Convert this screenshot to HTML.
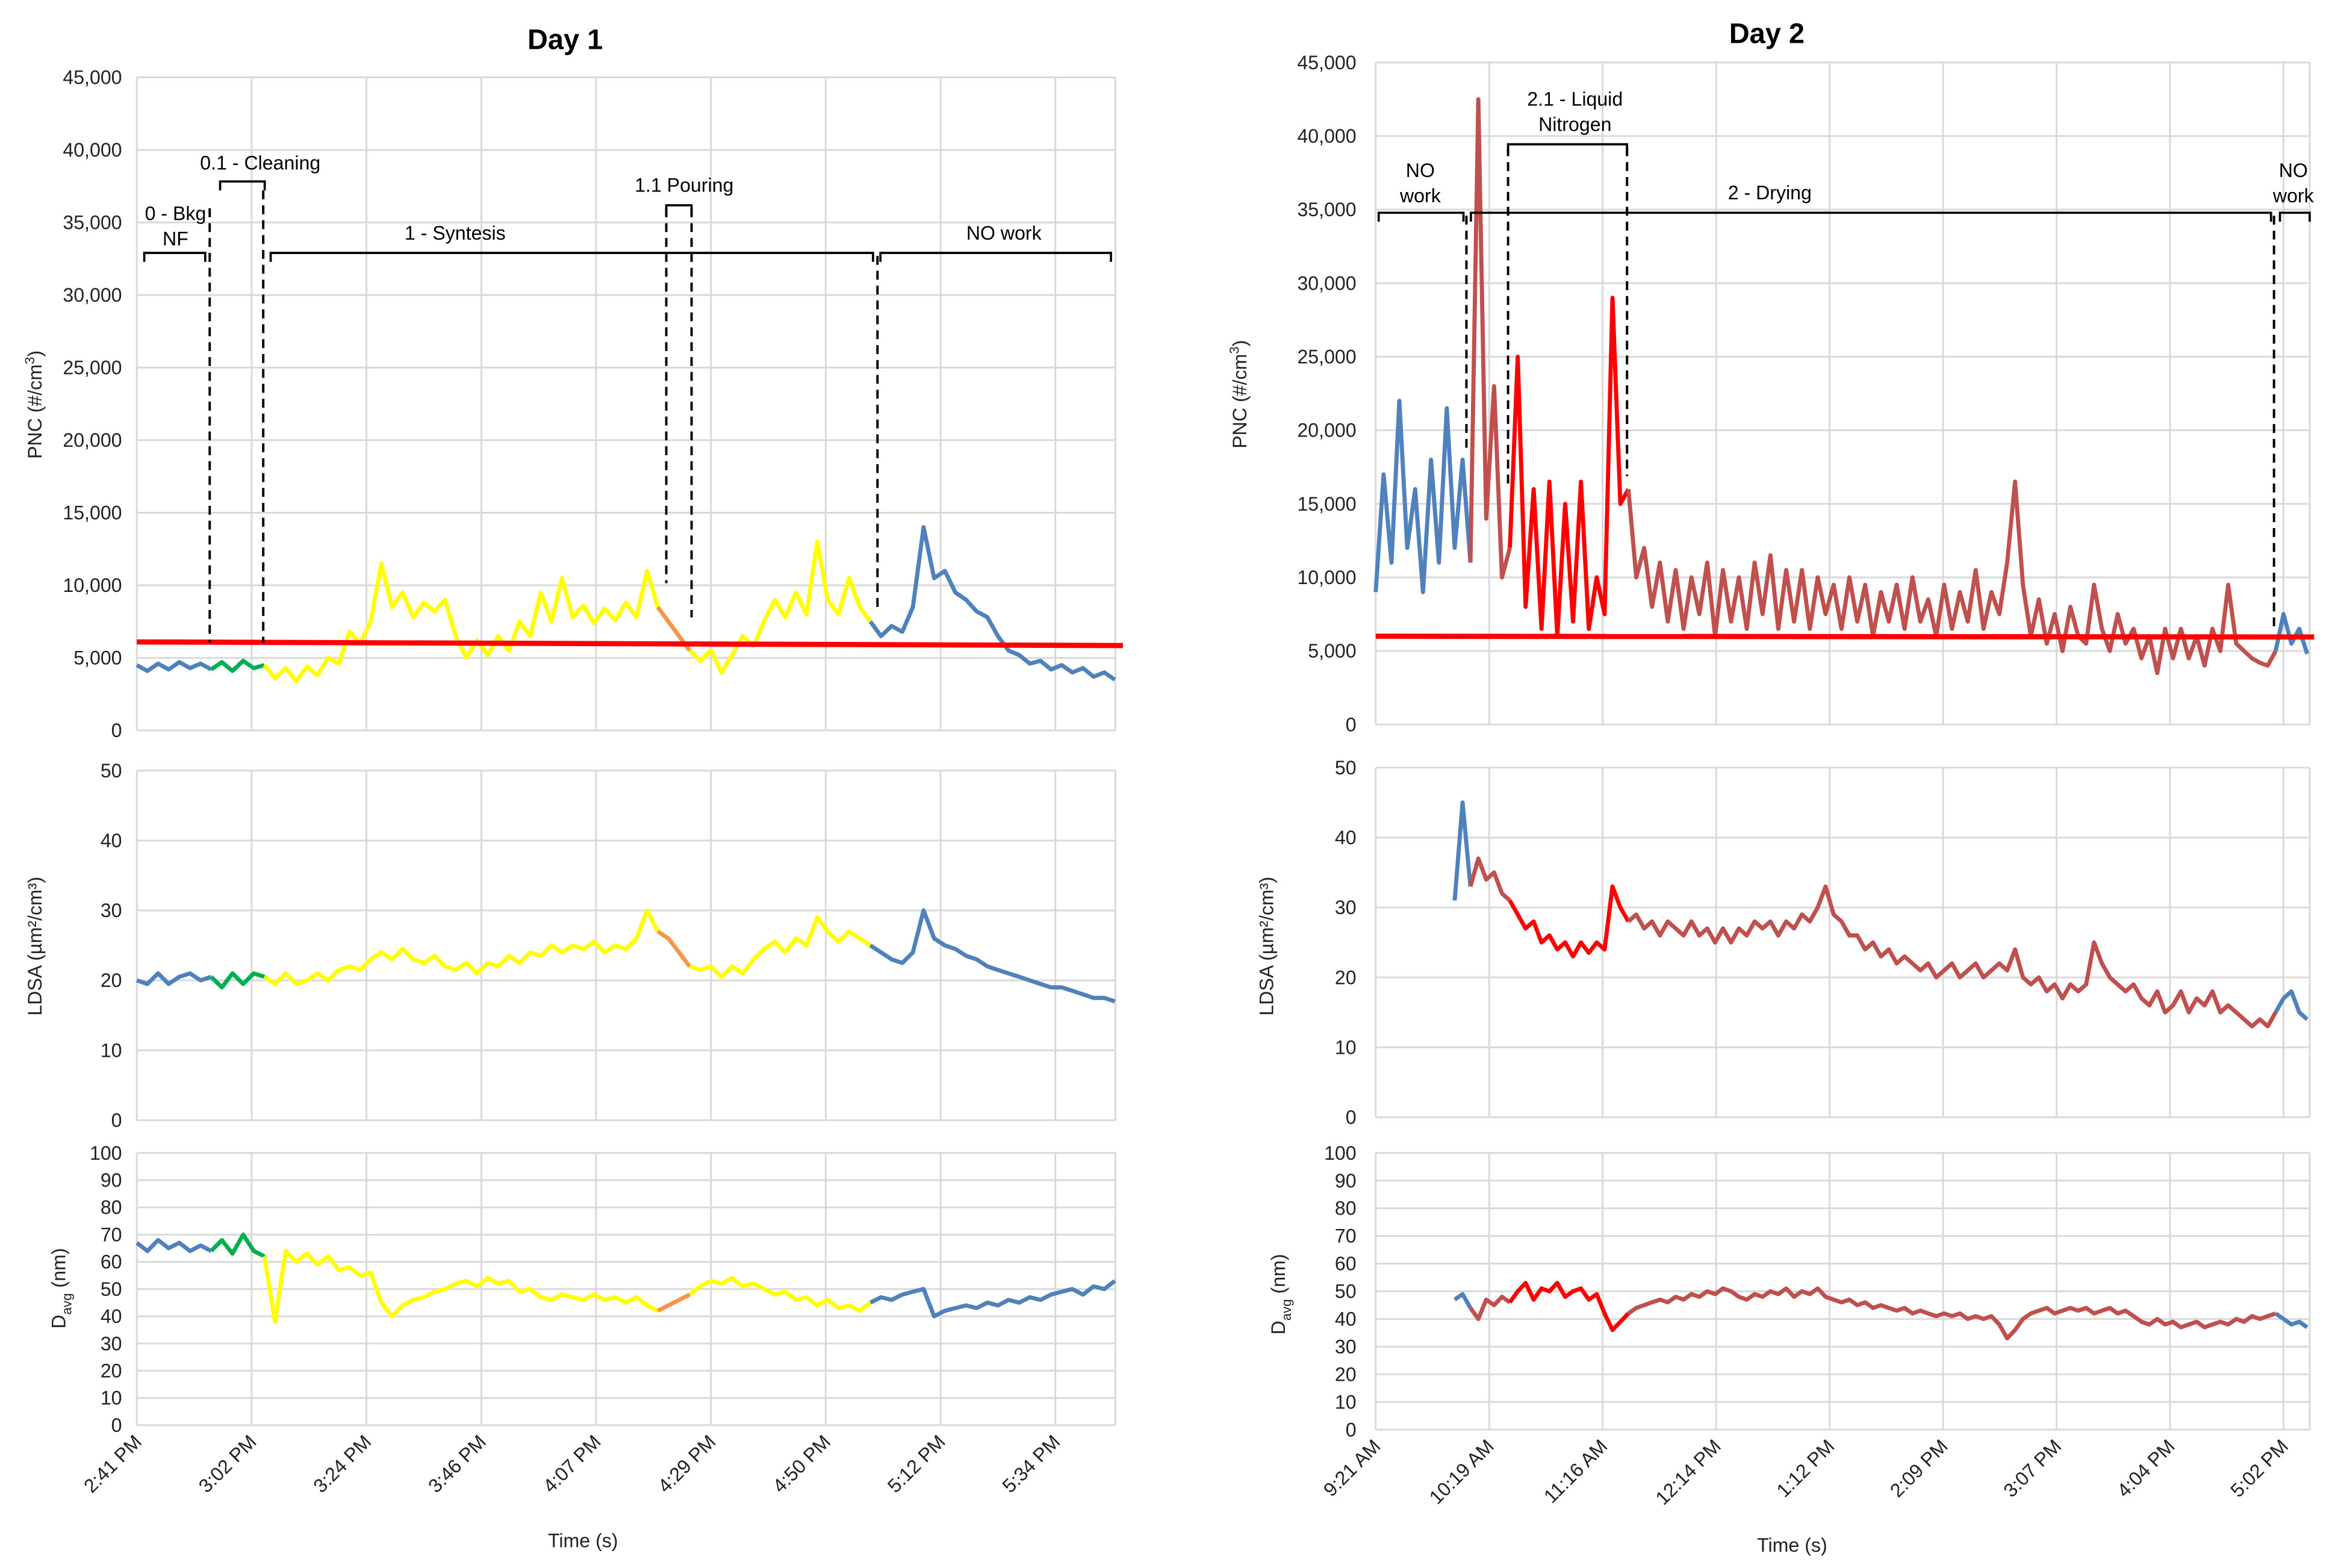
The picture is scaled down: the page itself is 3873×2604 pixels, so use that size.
<!DOCTYPE html>
<html><head><meta charset="utf-8"><style>
html,body{margin:0;padding:0;background:#fff;}
svg{display:block;font-family:"Liberation Sans",Arial,sans-serif;}
</style></head><body>
<svg id="chart" xmlns="http://www.w3.org/2000/svg" width="3873" height="2604" viewBox="0 0 1568 1054" preserveAspectRatio="none">
<rect x="0" y="0" width="1568" height="1054" fill="#fff"/>
</svg>
<script>
// ---------- DATA ----------
const d1XLabels = ["2:41 PM","3:02 PM","3:24 PM","3:46 PM","4:07 PM","4:29 PM","4:50 PM","5:12 PM","5:34 PM"];
const d2XLabels = ["9:21 AM","10:19 AM","11:16 AM","12:14 PM","1:12 PM","2:09 PM","3:07 PM","4:04 PM","5:02 PM"];
const pncTicks = [0,5000,10000,15000,20000,25000,30000,35000,40000,45000];
const ldsaTicks = [0,10,20,30,40,50];
const davgTicks = [0,10,20,30,40,50,60,70,80,90,100];
// day 1: minutes after 2:41 PM, step 2
const d1Time = [];
for (let i = 0; i <= 92; i++) d1Time.push(i * 2);
const d1Pnc = [4500,4100,4600,4200,4700,4300,4600,4200,4700,4100,4800,4300,4500,3600,4300,3400,4400,3800,5000,4600,6800,6000,7500,11500,8500,9500,7800,8800,8200,9000,6500,5000,6200,5200,6500,5500,7500,6500,9500,7500,10500,7800,8600,7400,8400,7600,8800,7800,11000,8500,7500,6500,5500,4800,5500,4000,5200,6500,5800,7500,9000,7800,9500,8000,13000,9000,8000,10500,8500,7500,6500,7200,6800,8500,14000,10500,11000,9500,9000,8200,7800,6500,5500,5200,4600,4800,4200,4500,4000,4300,3700,4000,3500];
const d1Ldsa = [20,19.5,21,19.5,20.5,21,20,20.5,19,21,19.5,21,20.5,19.5,21,19.5,20,21,20,21.5,22,21.5,23,24,23,24.5,23,22.5,23.5,22,21.5,22.5,21,22.5,22,23.5,22.5,24,23.5,25,24,25,24.5,25.5,24,25,24.5,26,30,27,26,24,22,21.5,22,20.5,22,21,23,24.5,25.5,24,26,25,29,27,25.5,27,26,25,24,23,22.5,24,30,26,25,24.5,23.5,23,22,21.5,21,20.5,20,19.5,19,19,18.5,18,17.5,17.5,17];
const d1Davg = [67,64,68,65,67,64,66,64,68,63,70,64,62,38,64,60,63,59,62,57,58,55,56,45,40,44,46,47,49,50,52,53,51,54,52,53,49,50,47,46,48,47,46,48,46,47,45,47,44,42,44,46,48,51,53,52,54,51,52,50,48,49,46,47,44,46,43,44,42,45,47,46,48,49,50,40,42,43,44,43,45,44,46,45,47,46,48,49,50,48,51,50,53];
const d1Segments = [0,14,24,98,104,138,184];
const d1Colors = ["#4f81bd","#00b050","#ffff00","#f79646","#ffff00","#4f81bd"];
const d1Threshold = [6100,5850];
// day 2: minutes after 9:21 AM, step 4
const d2Time = [];
for (let i = 0; i <= 118; i++) d2Time.push(i * 4);
const d2Pnc = [9000,17000,11000,22000,12000,16000,9000,18000,11000,21500,12000,18000,11000,42500,14000,23000,10000,12000,25000,8000,16000,6500,16500,6000,15000,7000,16500,6500,10000,7500,29000,15000,16000,10000,12000,8000,11000,7000,10500,6500,10000,7500,11000,6000,10500,7000,10000,6500,11000,7500,11500,6500,10500,7000,10500,6500,10000,7500,9500,6500,10000,7000,9500,6000,9000,7000,9500,6500,10000,7000,8500,6000,9500,6500,9000,7000,10500,6500,9000,7500,11000,16500,9500,6000,8500,5500,7500,5000,8000,6000,5500,9500,6500,5000,7500,5500,6500,4500,6000,3500,6500,4500,6500,4500,6000,4000,6500,5000,9500,5500,5000,4500,4200,4000,5000,7500,5500,6500,4800];
const d2Ldsa = [null,null,null,null,null,null,null,null,null,null,31,45,33,37,34,35,32,31,29,27,28,25,26,24,25,23,25,23.5,25,24,33,30,28,29,27,28,26,28,27,26,28,26,27,25,27,25,27,26,28,27,28,26,28,27,29,28,30,33,29,28,26,26,24,25,23,24,22,23,22,21,22,20,21,22,20,21,22,20,21,22,21,24,20,19,20,18,19,17,19,18,19,25,22,20,19,18,19,17,16,18,15,16,18,15,17,16,18,15,16,15,14,13,14,13,15,17,18,15,14];
const d2Davg = [null,null,null,null,null,null,null,null,null,null,47,49,44,40,47,45,48,46,50,53,47,51,50,53,48,50,51,47,49,42,36,39,42,44,45,46,47,46,48,47,49,48,50,49,51,50,48,47,49,48,50,49,51,48,50,49,51,48,47,46,47,45,46,44,45,44,43,44,42,43,42,41,42,41,42,40,41,40,41,38,33,36,40,42,43,44,42,43,44,43,44,42,43,44,42,43,41,39,38,40,38,39,37,38,39,37,38,39,38,40,39,41,40,41,42,40,38,39,37];
const d2Segments = [0,48,68,128,456,472];
const d2Colors = ["#4f81bd","#c0504d","#ff0000","#c0504d","#4f81bd"];
const d2Threshold = [6000,5950];

// ---------- LAYOUT ----------
const NS = "http://www.w3.org/2000/svg";
const svg = document.getElementById("chart");
function el(tag, attrs, parent, txt) {
  const e = document.createElementNS(NS, tag);
  for (const k in attrs) e.setAttribute(k, attrs[k]);
  if (txt !== undefined) e.textContent = txt;
  (parent || svg).appendChild(e);
  return e;
}
const day1 = {x0:92, x1:750, ppm:77.2/21.6, tickMin:21.6, labels:d1XLabels, lblX:82,
  pnc:{top:52,bot:491}, ldsa:{top:518,bot:753}, davg:{top:775,bot:958}};
const day2 = {x0:925, x1:1553, ppm:76.3/57.5, tickMin:57.5, labels:d2XLabels, lblX:912,
  pnc:{top:42,bot:487}, ldsa:{top:516,bot:751}, davg:{top:775,bot:961}};

function xScale(day, t) { return day.x0 + t * day.ppm; }
function yScale(p, max, v) { return p.bot - (v / max) * (p.bot - p.top); }
function fmt(v) { return v.toLocaleString("en-US"); }

function drawPanel(day, p, ticks, name) {
  const max = ticks[ticks.length - 1];
  const g = el("g", {});
  
  
  ticks.forEach(v => {
    const y = yScale(p, max, v);
    const ln = el("line", {x1:day.x0, x2:day.x1, y1:y, y2:y, stroke:"#d9d9d9", "stroke-width":1.2}, g);
    
    
    const tx = el("text", {x:day.lblX, y:y+4.5, "text-anchor":"end", "font-size":13, fill:"#222"}, g, fmt(v));
    
    
  });
  day.labels.forEach((l, i) => {
    const x = xScale(day, i * day.tickMin);
    const ln = el("line", {x1:x, x2:x, y1:p.top, y2:p.bot, stroke:"#d9d9d9", "stroke-width":1.2}, g);
    
    
  });
  const r = el("line", {x1:day.x1, x2:day.x1, y1:p.top, y2:p.bot, stroke:"#d9d9d9", "stroke-width":1.2}, g);
  
  
  return g;
}

function drawSeries(day, p, max, time, vals, segs, colors, name) {
  for (let s = 0; s < colors.length; s++) {
    const pts = [];
    for (let i = 0; i < time.length; i++) {
      if (vals[i] === null) continue;
      if (time[i] >= segs[s] && time[i] <= segs[s+1]) {
        pts.push(xScale(day, time[i]).toFixed(1) + "," + yScale(p, max, vals[i]).toFixed(1));
      }
    }
    if (pts.length < 2) continue;
    const pl = el("polyline", {points:pts.join(" "), fill:"none", stroke:colors[s], "stroke-width":2.8, "stroke-linejoin":"round"});
    
    
  }
}

function drawXLabels(day, y) {
  day.labels.forEach((l, i) => {
    const x = xScale(day, i * day.tickMin);
    const t = el("text", {x:x+4, y:y, "text-anchor":"end", "font-size":13, fill:"#222", transform:`rotate(-45 ${x+4} ${y})`}, svg, l);
    
    
  });
}

function vLabel(x, y, html, name) {
  const t = el("text", {x:x, y:y, "text-anchor":"middle", "font-size":13, fill:"#222", transform:`rotate(-90 ${x} ${y})`});
  t.innerHTML = html;
  
  
}

[[day1,"day1"],[day2,"day2"]].forEach(([d, n]) => {
  drawPanel(d, d.pnc, pncTicks, n + "-pnc");
  drawPanel(d, d.ldsa, ldsaTicks, n + "-ldsa");
  drawPanel(d, d.davg, davgTicks, n + "-davg");
});

drawSeries(day1, day1.pnc, 45000, d1Time, d1Pnc, d1Segments, d1Colors, "day1-pnc");
drawSeries(day1, day1.ldsa, 50, d1Time, d1Ldsa, d1Segments, d1Colors, "day1-ldsa");
drawSeries(day1, day1.davg, 100, d1Time, d1Davg, d1Segments, d1Colors, "day1-davg");
drawSeries(day2, day2.pnc, 45000, d2Time, d2Pnc, d2Segments, d2Colors, "day2-pnc");
drawSeries(day2, day2.ldsa, 50, d2Time, d2Ldsa, d2Segments, d2Colors, "day2-ldsa");
drawSeries(day2, day2.davg, 100, d2Time, d2Davg, d2Segments, d2Colors, "day2-davg");

[[day1, d1Threshold, 755, "day1"], [day2, d2Threshold, 1556, "day2"]].forEach(([d, th, xe, n]) => {
  const l = el("line", {x1:d.x0, x2:xe, y1:yScale(d.pnc, 45000, th[0]), y2:yScale(d.pnc, 45000, th[1]), stroke:"#ff0000", "stroke-width":3.5});
  
  
});

drawXLabels(day1, 970);
drawXLabels(day2, 973);

let t;
t = el("text", {x:380, y:33, "text-anchor":"middle", "font-size":19, "font-weight":"bold", fill:"#000"}, svg, "Day 1");


t = el("text", {x:1188, y:29, "text-anchor":"middle", "font-size":19, "font-weight":"bold", fill:"#000"}, svg, "Day 2");


t = el("text", {x:392, y:1040, "text-anchor":"middle", "font-size":13, fill:"#222"}, svg, "Time (s)");


t = el("text", {x:1205, y:1043, "text-anchor":"middle", "font-size":13, fill:"#222"}, svg, "Time (s)");



vLabel(28, 272, 'PNC (#/cm<tspan font-size="9" dy="-5">3</tspan><tspan dy="5">)</tspan>', 'day1-pnc-y-axis-title');
vLabel(28, 636, 'LDSA (µm²/cm³)', 'day1-ldsa-y-axis-title');
vLabel(44, 866, 'D<tspan font-size="9" dy="4">avg</tspan><tspan dy="-4"> (nm)</tspan>', 'day1-davg-y-axis-title');
vLabel(838, 265, 'PNC (#/cm<tspan font-size="9" dy="-5">3</tspan><tspan dy="5">)</tspan>', 'day2-pnc-y-axis-title');
vLabel(856, 636, 'LDSA (µm²/cm³)', 'day2-ldsa-y-axis-title');
vLabel(864, 870, 'D<tspan font-size="9" dy="4">avg</tspan><tspan dy="-4"> (nm)</tspan>', 'day2-davg-y-axis-title');

function bracket(x1, x2, y, name) {
  const p = el("path", {d:`M${x1},${y+6} L${x1},${y} L${x2},${y} L${x2},${y+6}`, fill:"none", stroke:"#000", "stroke-width":1.5});
  
  
}
function dashed(x, y1, y2, name) {
  const l = el("line", {x1:x, x2:x, y1:y1, y2:y2, stroke:"#000", "stroke-width":1.6, "stroke-dasharray":"6,4"});
  
  
}
function label(x, y, s, name) {
  const tt = el("text", {x:x, y:y, "text-anchor":"middle", "font-size":13, fill:"#000"}, svg, s);
  
  
}
bracket(97, 138, 170, 'bkg-bracket');
label(118, 148, '0 - Bkg', 'bkg-label');
label(118, 165, 'NF', 'bkg-label-2');
bracket(148, 178, 122, 'cleaning-bracket');
label(175, 114, '0.1 - Cleaning', 'cleaning-label');
bracket(182, 587, 170, 'syntesis-bracket');
label(306, 161, '1 - Syntesis', 'syntesis-label');
bracket(448, 465, 138, 'pouring-bracket');
label(460, 129, '1.1 Pouring', 'pouring-label');
bracket(592, 747, 170, 'day1-nowork-bracket');
label(675, 161, 'NO work', 'day1-nowork-label');
dashed(141, 140, 432, 'bkg-end-divider');
dashed(177, 128, 432, 'cleaning-end-divider');
dashed(448, 140, 392, 'pouring-start-divider');
dashed(465, 140, 415, 'pouring-end-divider');
dashed(590, 172, 410, 'syntesis-end-divider');
bracket(927, 984, 143, 'day2-nowork-bracket');
label(955, 119, 'NO', 'day2-nowork-label');
label(955, 136, 'work', 'day2-nowork-label-2');
bracket(989, 1527, 143, 'drying-bracket');
label(1190, 134, '2 - Drying', 'drying-label');
bracket(1014, 1094, 97, 'nitrogen-bracket');
label(1059, 71, '2.1 - Liquid', 'nitrogen-label');
label(1059, 88, 'Nitrogen', 'nitrogen-label-2');
bracket(1533, 1553, 143, 'day2-nowork-end-bracket');
label(1542, 119, 'NO', 'day2-nowork-end-label');
label(1542, 136, 'work', 'day2-nowork-end-label-2');
dashed(986, 145, 305, 'nowork-end-divider');
dashed(1014, 99, 325, 'nitrogen-start-divider');
dashed(1094, 99, 320, 'nitrogen-end-divider');
dashed(1529, 145, 422, 'drying-end-divider');
</script>
</body></html>
